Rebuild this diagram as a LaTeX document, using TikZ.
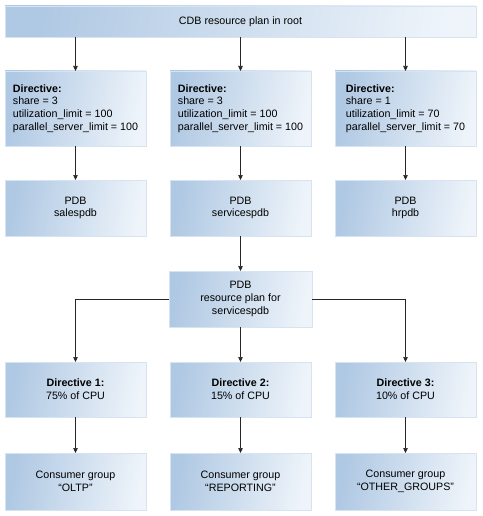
\documentclass[tikz,border=0pt]{standalone}
\usepackage{fontspec}
\setmainfont{Liberation Sans}
\usetikzlibrary{arrows.meta}
\definecolor{boxdark}{HTML}{AFC8E3}
\definecolor{boxlight}{HTML}{EEF4FA}
\definecolor{edgegray}{HTML}{7F8C99}
\definecolor{edgelight}{HTML}{D6E3F0}
\tikzset{
  x=1pt, y=-1pt,
  box/.style={minimum width=141pt, inner sep=0pt, outer sep=0pt,
    left color=boxdark, right color=boxlight, shading angle=80,
    draw=edgelight, line width=0.8pt,
    font=\fontsize{10.7}{12.7}\selectfont, align=center,
    append after command={
      [draw=edgegray, line width=1pt]
      (\tikzlastnode.south west) -- (\tikzlastnode.south east) -- (\tikzlastnode.north east)
    }},
  lbox/.style={box, align=left},
  arr/.style={-{Triangle[length=5pt,width=4.5pt]}, line width=0.6pt, black!85}
}
\begin{document}
\begin{tikzpicture}
\useasboundingbox (0,0) rectangle (482,516);
% root
\node[box, minimum width=471pt, minimum height=31pt] (root) at (240.5,21.5) {CDB resource plan in root};
% directive row
\node[lbox, minimum height=75pt] (d1) at (75.5,108.5) {\textbf{Directive:}\\share = 3\\utilization\_limit = 100\\parallel\_server\_limit = 100};
\node[lbox, minimum height=75pt] (d2) at (240.5,108.5) {\textbf{Directive:}\\share = 3\\utilization\_limit = 100\\parallel\_server\_limit = 100};
\node[lbox, minimum height=75pt] (d3) at (405.5,108.5) {\textbf{Directive:}\\share = 1\\utilization\_limit = 70\\parallel\_server\_limit = 70\hspace{14pt}};
% PDB row
\node[box, minimum height=56pt] (p1) at (75.5,208) {PDB\\salespdb};
\node[box, minimum height=56pt] (p2) at (240.5,208) {PDB\\servicespdb};
\node[box, minimum height=56pt] (p3) at (405.5,208) {PDB\\hrpdb};
% plan
\node[box, minimum width=143pt, minimum height=56pt] (plan) at (240.5,299) {PDB\\resource plan for\\servicespdb};
% directive N row
\node[box, minimum height=55pt] (n1) at (75.5,389.5) {\textbf{Directive 1:}\\75\% of CPU};
\node[box, minimum height=55pt] (n2) at (240.5,389.5) {\textbf{Directive 2:}\\15\% of CPU};
\node[box, minimum height=55pt] (n3) at (405.5,389.5) {\textbf{Directive 3:}\\10\% of CPU};
% consumer row
\node[box, minimum height=57pt] (c1) at (75.5,481.5) {Consumer group\\“OLTP”};
\node[box, minimum height=57pt] (c2) at (240.5,481.5) {Consumer group\\“REPORTING”};
\node[box, minimum height=57pt] (c3) at (405.5,481.5) {Consumer group\\“OTHER\_GROUPS”};
% arrows
\draw[arr] (root.south -| d1.north) -- (d1.north);
\draw[arr] (root.south -| d2.north) -- (d2.north);
\draw[arr] (root.south -| d3.north) -- (d3.north);
\draw[arr] (d1) -- (p1);
\draw[arr] (d2) -- (p2);
\draw[arr] (d3) -- (p3);
\draw[arr] (p2) -- (plan);
\draw[arr] (plan.west) -| (n1.north);
\draw[arr] (plan) -- (n2);
\draw[arr] (plan.east) -| (n3.north);
\draw[arr] (n1) -- (c1);
\draw[arr] (n2) -- (c2);
\draw[arr] (n3) -- (c3);
\end{tikzpicture}
\end{document}
